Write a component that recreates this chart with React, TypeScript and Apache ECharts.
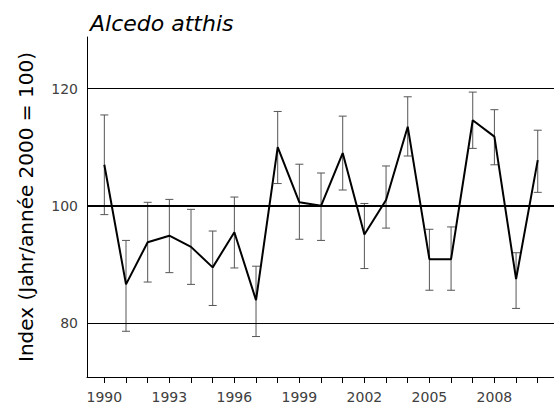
import React, { useEffect, useRef } from "react";
import * as echarts from "echarts";

const years = [1990, 1991, 1992, 1993, 1994, 1995, 1996, 1997, 1998, 1999, 2000, 2001, 2002, 2003, 2004, 2005, 2006, 2007, 2008, 2009, 2010];
const indexValues = [107.0, 86.6, 93.8, 94.9, 93.0, 89.5, 95.5, 83.9, 110.0, 100.6, 100.0, 109.0, 95.1, 101.0, 113.5, 90.9, 90.9, 114.6, 111.8, 87.5, 107.8];
const lowerValues = [98.5, 78.6, 87.0, 88.6, 86.6, 83.0, 89.4, 77.7, 103.8, 94.3, 94.1, 102.7, 89.3, 96.2, 108.5, 85.6, 85.6, 109.8, 107.0, 82.5, 102.3];
const upperValues = [115.5, 94.1, 100.6, 101.1, 99.4, 95.7, 101.5, 89.7, 116.1, 107.1, 105.6, 115.3, 100.4, 106.8, 118.6, 96.0, 96.4, 119.4, 116.4, 92.0, 112.9];
const xLabelYears = [1990, 1993, 1996, 1999, 2002, 2005, 2008];
const yLabelValues = [80, 100, 120];
const gridValues = [80, 120];
const referenceValue = 100;

const titleText = "Alcedo atthis";
const yTitleText = "Index (Jahr/année 2000 = 100)";

const FONT = "DejaVu Sans";

export default function App() {
  const ref = useRef<HTMLDivElement>(null);

  useEffect(() => {
    document.body.style.margin = "0";
    if (!ref.current) return;
    const chart = echarts.init(ref.current, null, { renderer: "svg" });

    const errData = years.map((y, i) => [y, lowerValues[i], upperValues[i]]);

    chart.setOption({
      animation: false,
      backgroundColor: "#ffffff",
      textStyle: { fontFamily: FONT },
      title: {
        text: titleText,
        left: 85,
        top: 7,
        textStyle: { fontFamily: FONT, fontStyle: "italic", fontWeight: "normal", fontSize: 22, color: "#000" },
      },
      graphic: [
        {
          type: "text",
          x: 26,
          y: 207,
          rotation: Math.PI / 2,
          style: {
            text: yTitleText,
            fontFamily: FONT,
            fontSize: 20,
            fill: "#000",
            align: "center",
            verticalAlign: "middle",
          },
        },
      ],
      grid: { left: 87, right: 0, top: 37, bottom: 29, containLabel: false },
      xAxis: {
        type: "value",
        min: 1989.2,
        max: 2010.75,
        axisLine: { show: true, lineStyle: { color: "#000", width: 1 } },
        axisTick: {
          show: true,
          length: 6,
          customValues: years,
          lineStyle: { color: "#000", width: 1 },
        },
        axisLabel: {
          customValues: xLabelYears,
          fontFamily: FONT,
          fontSize: 14,
          color: "#404040",
          margin: 13,
          formatter: (v: number) => String(v),
        },
        splitLine: { show: false },
      },
      yAxis: {
        type: "value",
        min: 70.8,
        max: 128.8,
        axisLine: { show: true, onZero: false, lineStyle: { color: "#000", width: 1 } },
        axisTick: { show: false },
        axisLabel: {
          customValues: yLabelValues,
          fontFamily: FONT,
          fontSize: 14,
          color: "#404040",
          margin: 9,
        },
        splitLine: { show: false },
      },
      series: [
        {
          type: "custom",
          name: "error",
          silent: true,
          data: errData,
          renderItem: (params: any, api: any) => {
            const x = api.value(0);
            const lo = api.coord([x, api.value(1)]);
            const hi = api.coord([x, api.value(2)]);
            const hw = 4;
            const style = { stroke: "#555555", lineWidth: 1 };
            return {
              type: "group",
              children: [
                { type: "line", shape: { x1: lo[0], y1: lo[1], x2: hi[0], y2: hi[1] }, style },
                { type: "line", shape: { x1: lo[0] - hw, y1: lo[1], x2: lo[0] + hw, y2: lo[1] }, style },
                { type: "line", shape: { x1: hi[0] - hw, y1: hi[1], x2: hi[0] + hw, y2: hi[1] }, style },
              ],
            };
          },
          z: 2,
        },
        {
          type: "line",
          name: "index",
          data: years.map((y, i) => [y, indexValues[i]]),
          showSymbol: false,
          symbol: "none",
          lineStyle: { color: "#000", width: 2 },
          z: 3,
          markLine: {
            silent: true,
            symbol: "none",
            label: { show: false },
            data: [
              ...gridValues.map((v) => ({ yAxis: v, lineStyle: { color: "#000", width: 1, type: "solid" } })),
              { yAxis: referenceValue, lineStyle: { color: "#000", width: 2, type: "solid" } },
            ],
          },
        },
      ],
    });

    return () => chart.dispose();
  }, []);

  return <div ref={ref} style={{ width: 554, height: 406 }} />;
}
